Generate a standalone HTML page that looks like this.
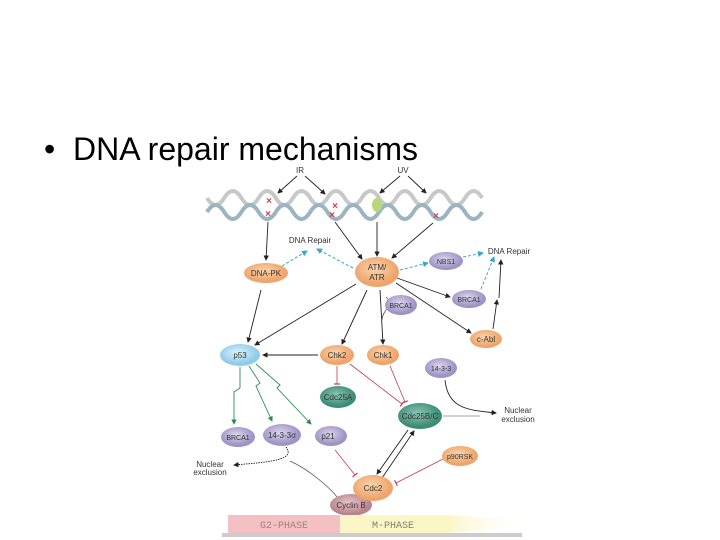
<!DOCTYPE html>
<html><head><meta charset="utf-8"><style>
html,body{margin:0;padding:0;background:#fff;}
body{width:720px;height:540px;position:relative;overflow:hidden;font-family:"Liberation Sans",sans-serif;}
#t{position:absolute;left:44px;top:131px;font-size:32px;color:#000;white-space:nowrap;}
</style></head><body>
<div id="t">•&nbsp;&nbsp;DNA repair mechanisms</div>
<svg width="720" height="540" style="position:absolute;left:0;top:0" font-family="Liberation Sans, sans-serif">
<defs>
<marker id="a" markerWidth="6" markerHeight="6" refX="5" refY="3" orient="auto"><path d="M0,0 L6,3 L0,6z" fill="#222"/></marker>
<marker id="b" markerWidth="6" markerHeight="6" refX="5" refY="3" orient="auto"><path d="M0,0 L6,3 L0,6z" fill="#3aa6c8"/></marker>
<marker id="g" markerWidth="6" markerHeight="6" refX="5" refY="3" orient="auto"><path d="M0,0 L6,3 L0,6z" fill="#2e8b57"/></marker>
<marker id="r" markerWidth="2" markerHeight="8" refX="1" refY="4" orient="auto"><path d="M1,0 L1,8" stroke="#c04050" stroke-width="1.5"/></marker>
<radialGradient id="o" cx="45%" cy="40%"><stop offset="0" stop-color="#fbd5ae"/><stop offset="1" stop-color="#eea46a"/></radialGradient>
<radialGradient id="p" cx="45%" cy="40%"><stop offset="0" stop-color="#dcd6ec"/><stop offset="1" stop-color="#9e93c4"/></radialGradient>
<radialGradient id="gr" cx="45%" cy="40%"><stop offset="0" stop-color="#8cc4b4"/><stop offset="1" stop-color="#3d8c78"/></radialGradient>
<radialGradient id="bl" cx="45%" cy="40%"><stop offset="0" stop-color="#e0f2fb"/><stop offset="1" stop-color="#8ccbea"/></radialGradient>
<radialGradient id="cb" cx="45%" cy="40%"><stop offset="0" stop-color="#e8c4c8"/><stop offset="1" stop-color="#b8848c"/></radialGradient>
<linearGradient id="fade" x1="0" x2="1"><stop offset="0" stop-color="#faf6c6"/><stop offset="1" stop-color="#fff" stop-opacity="0"/></linearGradient>
</defs>
<g fill="none" stroke-width="4">
<path d="M207,198 q8.6,14 17.2,0 q8.6,-14 17.2,0 q8.6,14 17.2,0 q8.6,-14 17.2,0 q8.6,14 17.2,0 q8.6,-14 17.2,0 q8.6,14 17.2,0 q8.6,-14 17.2,0 q8.6,14 17.2,0 q8.6,-14 17.2,0 q8.6,14 17.2,0 q8.6,-14 17.2,0 q8.6,14 17.2,0 q8.6,-14 17.2,0 q8.6,14 17.2,0 q8.6,-14 17.2,0" stroke="#c8c8c8"/>
<path d="M207,212 q8.6,-14 17.2,0 q8.6,14 17.2,0 q8.6,-14 17.2,0 q8.6,14 17.2,0 q8.6,-14 17.2,0 q8.6,14 17.2,0 q8.6,-14 17.2,0 q8.6,14 17.2,0 q8.6,-14 17.2,0 q8.6,14 17.2,0 q8.6,-14 17.2,0 q8.6,14 17.2,0 q8.6,-14 17.2,0 q8.6,14 17.2,0 q8.6,-14 17.2,0 q8.6,14 17.2,0" stroke="#9ab4c2"/>
</g>
<ellipse cx="377" cy="205" rx="5" ry="7" fill="#b8d878"/>
<g fill="#d04050" font-size="10" font-weight="bold" text-anchor="middle">
<text x="269" y="204">×</text><text x="268" y="217">×</text><text x="335" y="209">×</text><text x="332" y="218">×</text><text x="436" y="219">×</text>
</g>
<g font-size="8" fill="#333" text-anchor="middle">
<text x="300" y="173">IR</text><text x="403" y="173">UV</text>
<text x="310" y="243">DNA Repair</text><text x="509" y="254">DNA Repair</text>
<text x="210" y="467">Nuclear</text><text x="210" y="475">exclusion</text>
<text x="518" y="413">Nuclear</text><text x="518" y="422">exclusion</text>
</g>
<g stroke="#222" stroke-width="0.9" fill="none" marker-end="url(#a)">
<line x1="297" y1="176" x2="278" y2="193"/><line x1="305" y1="176" x2="325" y2="194"/>
<line x1="400" y1="176" x2="380" y2="193"/><line x1="408" y1="176" x2="426" y2="193"/>
<line x1="268" y1="222" x2="266" y2="260"/><line x1="335" y1="222" x2="362" y2="259"/>
<line x1="377" y1="222" x2="377" y2="256"/><line x1="433" y1="223" x2="392" y2="258"/>
<line x1="261" y1="290" x2="248" y2="342"/><line x1="356" y1="284" x2="255" y2="345"/>
<line x1="367" y1="290" x2="342" y2="344"/><line x1="380" y1="290" x2="383" y2="344"/>
<line x1="397" y1="278" x2="450" y2="297"/><line x1="396" y1="283" x2="471" y2="333"/>
<line x1="493" y1="329" x2="497" y2="300"/><line x1="499" y1="298" x2="501" y2="260"/>
<line x1="318" y1="355" x2="263" y2="355"/>
<line x1="382" y1="478" x2="414" y2="431"/><line x1="408" y1="430" x2="377" y2="474"/>
<path d="M445,380 C448,410 470,410 496,413"/>
<path d="M286,447 C296,460 270,462 234,465" stroke-dasharray="1.5,1"/>
</g>
<path d="M386,297 C395,305 382,310 382,320" stroke="#555" fill="none" stroke-width="0.8"/>
<path d="M338,498 C330,488 310,470 290,461" stroke="#555" fill="none" stroke-width="0.8"/>
<line x1="443" y1="416" x2="480" y2="416" stroke="#888" stroke-width="0.8"/>
<g stroke="#3aa6c8" stroke-width="1" stroke-dasharray="3,2" fill="none" marker-end="url(#b)">
<line x1="282" y1="266" x2="307" y2="251"/><line x1="353" y1="268" x2="317" y2="249"/>
<line x1="400" y1="270" x2="428" y2="263"/><line x1="463" y1="257" x2="483" y2="253"/>
<line x1="481" y1="289" x2="494" y2="257"/>
</g>
<g stroke="#2e8b57" stroke-width="0.9" fill="none" marker-end="url(#g)">
<path d="M240,367 L240,388 L234,392 L234,424"/>
<path d="M249,366 L260,383 L256,386 L272,421"/>
<path d="M256,364 L280,385 L277,388 L311,424"/>
</g>
<g stroke="#c04050" stroke-width="0.8" fill="none" marker-end="url(#r)">
<line x1="337" y1="366" x2="337" y2="384"/><line x1="350" y1="364" x2="402" y2="404"/>
<line x1="390" y1="366" x2="405" y2="402"/><line x1="335" y1="450" x2="355" y2="475"/>
<line x1="443" y1="459" x2="396" y2="483"/>
</g>
<g font-size="8" fill="#333" text-anchor="middle">
<ellipse cx="266" cy="273" rx="22" ry="10" fill="url(#o)"/><text x="266" y="276">DNA-PK</text>
<ellipse cx="377" cy="272" rx="22" ry="15" fill="url(#o)"/><text x="377" y="270">ATM/</text><text x="377" y="280">ATR</text>
<ellipse cx="446" cy="261" rx="17" ry="9" fill="url(#p)"/><text x="446" y="264" font-size="7">NBS1</text>
<ellipse cx="469" cy="299" rx="17" ry="9" fill="url(#p)"/><text x="469" y="302" font-size="7">BRCA1</text>
<ellipse cx="401" cy="305" rx="16" ry="10" fill="url(#p)"/><text x="401" y="308" font-size="7">BRCA1</text>
<ellipse cx="486" cy="339" rx="16" ry="9" fill="url(#o)"/><text x="486" y="342">c-Abl</text>
<ellipse cx="240" cy="355" rx="20" ry="11" fill="url(#bl)"/><text x="240" y="358">p53</text>
<ellipse cx="337" cy="355" rx="17" ry="10" fill="url(#o)"/><text x="337" y="358">Chk2</text>
<ellipse cx="383" cy="355" rx="16" ry="10" fill="url(#o)"/><text x="383" y="358">Chk1</text>
<ellipse cx="441" cy="368" rx="16" ry="10" fill="url(#p)"/><text x="441" y="371" font-size="7">14-3-3</text>
<ellipse cx="338" cy="397" rx="18" ry="11" fill="url(#gr)"/><text x="338" y="400">Cdc25A</text>
<ellipse cx="420" cy="416" rx="22" ry="13" fill="url(#gr)"/><text x="420" y="419">Cdc25B/C</text>
<ellipse cx="238" cy="437" rx="17" ry="10" fill="url(#p)"/><text x="238" y="440" font-size="7">BRCA1</text>
<ellipse cx="282" cy="435" rx="19" ry="11" fill="url(#p)"/><text x="282" y="438">14-3-3σ</text>
<ellipse cx="331" cy="436" rx="16" ry="10" fill="url(#p)"/><text x="328" y="439">p21</text>
<ellipse cx="460" cy="456" rx="18" ry="10" fill="url(#o)"/><text x="460" y="459" font-size="7">p90RSK</text>
<ellipse cx="351" cy="505" rx="21" ry="11" fill="url(#cb)"/><text x="351" y="508">Cyclin B</text>
<ellipse cx="373" cy="488" rx="20" ry="13" fill="url(#o)"/><text x="373" y="491">Cdc2</text>
</g>
<rect x="228" y="515" width="112" height="18" fill="#f4c0c4"/>
<rect x="340" y="515" width="107" height="18" fill="#faf6c6"/>
<path d="M447,515 L530,521 L530,527 L447,533z" fill="url(#fade)"/>
<rect x="222" y="533" width="300" height="4" fill="#ccc"/>
<g font-family="Liberation Mono, monospace" font-size="10" fill="#a08080" text-anchor="middle">
<text x="284" y="528">G2-PHASE</text><text x="393" y="528" fill="#808070">M-PHASE</text>
</g>
</svg>
</body></html>
